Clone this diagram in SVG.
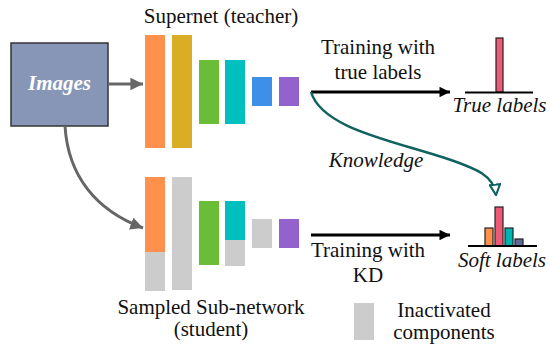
<svg xmlns="http://www.w3.org/2000/svg" width="549" height="345" viewBox="0 0 549 345" font-family="'Liberation Serif', 'Times New Roman', Times, 'DejaVu Serif', serif">
<defs>
<style>
text{font-family:'Liberation Serif','Times New Roman',Times,'DejaVu Serif',serif;font-size:21px;fill:#111}
.it{font-style:italic}
.mid{text-anchor:middle}
.or{fill:#ff914d}.go{fill:#dbad25}.gr{fill:#6abd36}.cy{fill:#00bfbf}.bl{fill:#3e8fe8}.pu{fill:#9462cc}.ina{fill:#cccccc}
.bar{stroke:#222;stroke-width:1.2}
</style>
<marker id="ag" viewBox="0 0 10 10" refX="10" refY="5" markerWidth="4.2" markerHeight="4.2" orient="auto" markerUnits="strokeWidth"><path d="M0,0 L10,5 L0,10 z" fill="#666"/></marker>
<marker id="ak" viewBox="0 0 10 10" refX="10" refY="5" markerWidth="4.5" markerHeight="3.5" orient="auto" markerUnits="strokeWidth"><path d="M0,0 L10,5 L0,10 z" fill="#000"/></marker>
<marker id="at" viewBox="0 0 12 12" refX="11" refY="6" markerWidth="5" markerHeight="5" orient="auto" markerUnits="strokeWidth"><path d="M1,1 L11,6 L1,11 z" fill="#fff" stroke="#0f6260" stroke-width="2"/></marker>
</defs>

<g id="images">
<rect x="11" y="43" width="97" height="83" fill="#8796b7" stroke="#333" stroke-width="1.5"/>
<text x="59.5" y="90" class="mid it" style="font-weight:bold;fill:#fff">Images</text>
</g>

<g id="supernet">
<text x="221" y="23" class="mid">Supernet (teacher)</text>
<rect class="or" x="145" y="35" width="20" height="113"/>
<rect class="go" x="172" y="35" width="20" height="113"/>
<rect class="gr" x="199" y="60" width="20" height="64"/>
<rect class="cy" x="225" y="60" width="20" height="64"/>
<rect class="bl" x="252" y="77" width="20" height="29"/>
<rect class="pu" x="279" y="77" width="20" height="29"/>
</g>

<g id="subnetwork">
<rect class="or" x="145" y="177" width="20" height="75"/>
<rect class="ina" x="145" y="252" width="20" height="39"/>
<rect class="ina" x="172" y="177" width="20" height="113"/>
<rect class="gr" x="199" y="201" width="20" height="64"/>
<rect class="cy" x="225" y="201" width="20" height="39"/>
<rect class="ina" x="225" y="240" width="20" height="26"/>
<rect class="ina" x="252" y="219" width="20" height="29"/>
<rect class="pu" x="279" y="219" width="20" height="29"/>
<text x="211" y="314" class="mid">Sampled Sub-network</text>
<text x="211" y="336" class="mid">(student)</text>
</g>

<g id="true-labels">
<rect x="496" y="38" width="7" height="54" fill="#ee5a75" class="bar"/>
<line x1="465" y1="92.5" x2="533" y2="92.5" stroke="#000" stroke-width="2"/>
<text x="499.5" y="112" class="mid it">True labels</text>
</g>

<g id="soft-labels">
<rect x="485" y="228" width="8" height="18" fill="#ff914d" class="bar"/>
<rect x="495" y="207" width="8" height="39" fill="#ee5a75" class="bar"/>
<rect x="505" y="228" width="8" height="18" fill="#00b3b3" class="bar"/>
<rect x="515" y="239" width="8" height="7" fill="#5e6a9a" class="bar"/>
<line x1="468" y1="246" x2="537" y2="246" stroke="#000" stroke-width="2"/>
<text x="502" y="267" class="mid it">Soft labels</text>
</g>

<g id="legend">
<rect class="ina" x="354" y="303" width="20" height="37"/>
<text x="444" y="317" class="mid">Inactivated</text>
<text x="444" y="339" class="mid">components</text>
</g>

<g id="connectors">
<line x1="108" y1="84" x2="143" y2="84" stroke="#666" stroke-width="3" marker-end="url(#ag)"/>
<path d="M65,126 C68,175 95,210 143,228" fill="none" stroke="#666" stroke-width="3" marker-end="url(#ag)"/>
<line x1="311" y1="92" x2="450" y2="92" stroke="#000" stroke-width="3" marker-end="url(#ak)"/>
<line x1="311" y1="235" x2="450" y2="235" stroke="#000" stroke-width="3" marker-end="url(#ak)"/>
<path d="M311,92 C322,128 390,140 445,158 C478,169 494,176 496,195" fill="none" stroke="#0f6260" stroke-width="2.5" marker-end="url(#at)"/>
<text x="378" y="54" class="mid">Training with</text>
<text x="378" y="79" class="mid">true labels</text>
<text x="376" y="167" class="mid it">Knowledge</text>
<text x="368" y="257" class="mid">Training with</text>
<text x="368" y="282" class="mid">KD</text>
</g>
</svg>
